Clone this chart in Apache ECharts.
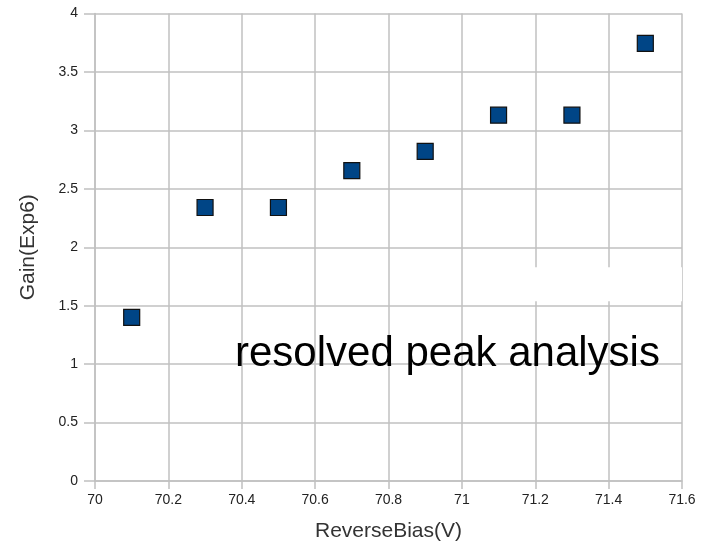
<!DOCTYPE html>
<html>
<head>
<meta charset="utf-8">
<script src="https://cdn.jsdelivr.net/npm/echarts@6/dist/echarts.min.js"></script>
<style>
  html, body { margin: 0; padding: 0; background: #fff; }
  #chart { width: 713px; height: 554px; }
</style>
</head>
<body>
<div id="chart"></div>
<script>
// Reverse bias voltage (V) and measured gain (x10^6)
const biasVoltage = [70.1, 70.3, 70.5, 70.7, 70.9, 71.1, 71.3, 71.5];
const gainValues = [1.40, 2.34, 2.34, 2.655, 2.82, 3.13, 3.13, 3.745];

// Axis ranges
const xMin = 70, xMax = 71.6, xStep = 0.2;
const yMin = 0, yMax = 4, yStep = 0.5;

// Blanked-out patch over the grid (data coordinates)
const patchX = [71.17, 71.63];
const patchY = [1.538, 1.829];

const points = biasVoltage.map((v, i) => [v, gainValues[i]]);
const FONT = '"Liberation Sans", Arial, sans-serif';
const gridColor = '#c0c0c0';

const chart = echarts.init(document.getElementById('chart'));
chart.setOption({
  backgroundColor: '#ffffff',
  animation: false,
  grid: { left: 95, right: 31, top: 13.5, bottom: 73, containLabel: false },
  xAxis: {
    type: 'value',
    min: xMin, max: xMax, interval: xStep,
    name: 'ReverseBias(V)',
    nameLocation: 'middle',
    nameGap: 40,
    nameTextStyle: { fontFamily: FONT, fontSize: 21, color: '#333' },
    axisLine: { show: true, lineStyle: { color: gridColor, width: 1.5 } },
    axisTick: { show: true, length: 8, lineStyle: { color: gridColor, width: 1.5 } },
    axisLabel: {
      fontFamily: FONT, fontSize: 14, color: '#222', margin: 12,
      formatter: v => String(Math.round(v * 10) / 10)
    },
    splitLine: { show: true, lineStyle: { color: gridColor, width: 1.5 } }
  },
  yAxis: {
    type: 'value',
    min: yMin, max: yMax, interval: yStep,
    name: 'Gain(Exp6)',
    nameLocation: 'middle',
    nameGap: 56,
    nameTextStyle: { fontFamily: FONT, fontSize: 21, color: '#333' },
    axisLine: { show: true, lineStyle: { color: gridColor, width: 1.5 } },
    axisTick: { show: true, length: 11, lineStyle: { color: gridColor, width: 1.5 } },
    axisLabel: { fontFamily: FONT, fontSize: 14, color: '#222', margin: 17 },
    splitLine: { show: true, lineStyle: { color: gridColor, width: 1.5 } }
  },
  series: [{
    type: 'scatter',
    clip: false,
    data: points,
    symbol: 'rect',
    symbolSize: 16,
    itemStyle: { color: '#004586', opacity: 1, borderColor: '#111', borderWidth: 1.2 },
    emphasis: { disabled: true },
    markArea: {
      silent: true,
      itemStyle: { color: '#ffffff', opacity: 1 },
      data: [[{ coord: [patchX[0], patchY[0]] }, { coord: [patchX[1], patchY[1]] }]]
    },
    z: 3
  }],
  graphic: []
});

// Annotation text, anchored in data space
const anchor = chart.convertToPixel({ gridIndex: 0 }, [70.4, 1.0]);
chart.setOption({
  graphic: [{
    type: 'text',
    left: 235,
    top: anchor[1] - 31,
    z: 10,
    style: {
      text: 'resolved peak analysis',
      fontFamily: FONT,
      fontSize: 42,
      fill: '#000'
    }
  }]
});
</script>
</body>
</html>
